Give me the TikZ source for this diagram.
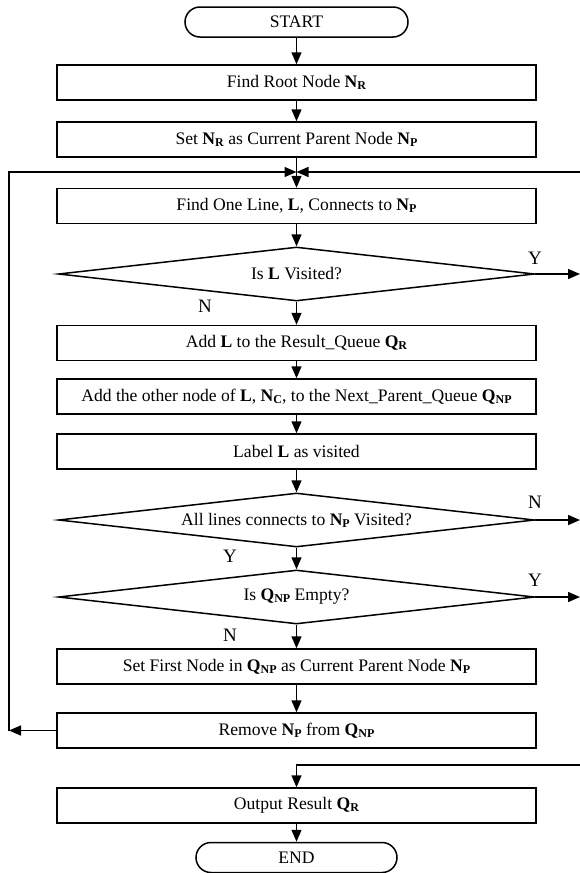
\documentclass[tikz,border=0pt]{standalone}
\usepackage{fontspec}
\setmainfont{Liberation Serif}
\usetikzlibrary{shapes.geometric,arrows.meta}
\newcommand\bsub[2]{\textbf{#1}\raisebox{-0.25ex}{\fontsize{12}{12}\selectfont\bfseries #2}}
\begin{document}
\begin{tikzpicture}[x=1pt,y=-1pt,
  every node/.style={font=\fontsize{17.6}{19}\selectfont},
  proc/.style={draw, line width=1.5pt, minimum width=479pt, minimum height=35pt, inner sep=0pt},
  term/.style={draw, line width=1.5pt, rounded corners=15pt, minimum height=30pt, inner sep=0pt},
  dec/.style={draw, diamond, line width=1.5pt, aspect=8.8, minimum width=476pt, minimum height=54pt, inner sep=0pt},
  flow/.style={line width=1.5pt, -{Triangle[length=12pt,width=10pt]}},
  lab/.style={font=\fontsize{19}{20}\selectfont}]
\useasboundingbox (0,0) rectangle (580,873);
\node[term, minimum width=223pt] (start) at (296.5,22) {START};
\node[proc] (b1) at (296.5,82.5) {Find Root Node \bsub{N}{R}};
\node[proc] (b2) at (296.5,139.5) {Set \bsub{N}{R} as Current Parent Node \bsub{N}{P}};
\coordinate (m) at (296.5,172);
\node[proc] (b3) at (296.5,206) {Find One Line, \textbf{L}, Connects to \bsub{N}{P}};
\node[dec] (d1) at (296.5,274) {Is \textbf{L} Visited?};
\node[proc] (b4) at (296.5,343) {Add \textbf{L} to the Result\_Queue \bsub{Q}{R}};
\node[proc] (b5) at (296.5,396.5) {Add the other node of \textbf{L}, \bsub{N}{C}, to the Next\_Parent\_Queue \bsub{Q}{NP}};
\node[proc] (b6) at (296.5,451.5) {Label \textbf{L} as visited};
\node[dec] (d2) at (296.5,520) {All lines connects to \bsub{N}{P} Visited?};
\node[dec] (d3) at (296.5,597) {Is \bsub{Q}{NP} Empty?};
\node[proc] (b7) at (296.5,666.5) {Set First Node in \bsub{Q}{NP} as Current Parent Node \bsub{N}{P}};
\node[proc] (b8) at (296.5,730.5) {Remove \bsub{N}{P} from \bsub{Q}{NP}};
\coordinate (r) at (296.5,765);
\node[proc] (b9) at (296.5,805.5) {Output Result \bsub{Q}{R}};
\node[term, minimum width=201pt] (end) at (296.5,857.5) {END};
\coordinate (lt) at (9,172);
\coordinate (lb) at (9,730.5);
\coordinate (rt) at (580,172);
\coordinate (e1) at (580,274);
\coordinate (e2) at (580,520);
\coordinate (e3) at (580,597);
\coordinate (rr) at (580,765);
\node[lab] (y1) at (535,258) {Y};
\node[lab] (n1) at (205,306) {N};
\node[lab] (n2) at (535,502) {N};
\node[lab] (y2) at (230,556) {Y};
\node[lab] (y3) at (535,580) {Y};
\node[lab] (n3) at (230,635) {N};
\draw[flow] (start) -- (b1);
\draw[flow] (b1) -- (b2);
\draw[flow] (b2) -- (b3);
\draw[flow] (b3) -- (d1);
\draw[flow] (d1) -- (b4);
\draw[flow] (b4) -- (b5);
\draw[flow] (b5) -- (b6);
\draw[flow] (b6) -- (d2);
\draw[flow] (d2) -- (d3);
\draw[flow] (d3) -- (b7);
\draw[flow] (b7) -- (b8);
\draw[flow] (b8.west) -- (lb);
\draw[flow] (lb) -- (lt) -- (m);
\draw[flow] (rt) -- (m);
\draw[flow] (d1.east) -- (e1);
\draw[flow] (d2.east) -- (e2);
\draw[flow] (d3.east) -- (e3);
\draw[flow] (rr) -- (r) -- (b9);
\draw[flow] (b9) -- (end);
\end{tikzpicture}
\end{document}
